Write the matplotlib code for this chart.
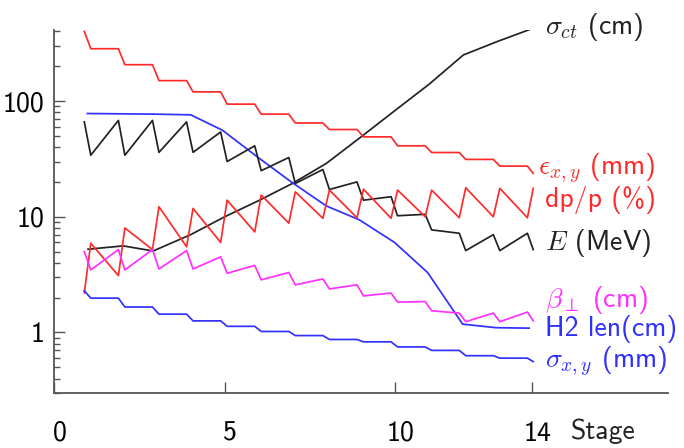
import matplotlib
matplotlib.use("Agg")
import matplotlib.pyplot as plt
from matplotlib import transforms

plt.rcParams["font.family"] = ["cmss10", "DejaVu Sans"]
plt.rcParams["mathtext.fontset"] = "cm"
plt.rcParams["axes.unicode_minus"] = False

# stage positions shared by the stepped / zigzag curves
stage_pos = [0.88, 1.07, 1.88, 2.07, 2.88, 3.07, 3.88, 4.07, 4.88, 5.07,
             5.88, 6.07, 6.88, 7.07, 7.88, 8.07, 8.88, 9.07, 9.88, 10.07,
             10.88, 11.07, 11.88, 12.07, 12.88, 13.07, 13.88, 14.05]

emit = [400, 283, 283, 206, 206, 150, 150, 120, 120, 94, 94, 77, 77, 64.6,
        64.6, 56.7, 56.7, 49, 49, 41, 41, 35.9, 35.9, 31.3, 31.3, 27.4, 27.4, 23.7]
dpp = [2.2, 5.9, 3.1, 8.0, 5.2, 12.2, 5.5, 11.8, 6.0, 13.9, 7.4, 15.4, 8.8, 16.4,
       9.7, 17, 9.8, 17.3, 9.7, 17, 10, 17, 9.8, 17.8, 10, 17.6, 9.8, 17.6]
energy = [66, 34, 68, 34, 68, 36, 66, 36, 54, 30, 41, 25, 32.5, 19.4,
          25.6, 17.2, 20, 13.9, 14.9, 10.2, 10.5, 7.7, 7.2, 5.1, 7.0, 5.1, 7.2, 5.2]
beta_perp = [5.0, 3.47, 5.2, 3.47, 5.2, 3.54, 5.1, 3.54, 4.5, 3.25, 3.8, 2.85, 3.3, 2.58,
             2.9, 2.38, 2.58, 2.07, 2.19, 1.83, 1.85, 1.54, 1.47, 1.24, 1.47, 1.24, 1.5, 1.26]
sigma_xy = [2.29, 1.98, 1.98, 1.66, 1.66, 1.44, 1.44, 1.26, 1.26, 1.13, 1.13, 1.02, 1.02, 0.94,
            0.94, 0.87, 0.87, 0.83, 0.83, 0.75, 0.75, 0.70, 0.70, 0.63, 0.63, 0.60, 0.60, 0.56]

sigma_ct_x = [0.99, 2.02, 2.9, 4, 5, 6, 7, 7.98, 9, 10, 11, 12, 13, 13.93]
sigma_ct = [5.24, 5.6, 5.06, 7.0, 10, 13.8, 19.5, 28.9, 49, 83, 140, 250, 327, 413]

h2_x = [0.97, 1.97, 2.97, 4.0, 4.93, 5.95, 6.95, 7.98, 8.95, 9.98, 10.95, 11.98, 12.95, 13.93]
h2_len = [78, 77.5, 77, 76, 56, 33, 20, 12.4, 9.4, 6.0, 3.3, 1.18, 1.1, 1.09]

x_ticks = [0, 5, 10, 14]
y_ticks = [1, 10, 100]

RED = "#ff2b2b"
BLUE = "#3030ff"
MAGENTA = "#ff30ff"
BLACK = "#222222"
AXIS = "#555555"

fig = plt.figure(figsize=(6.84, 4.48), dpi=100)
ax = fig.add_axes([0.0794, 0.1228, 0.897, 0.810])

lw = 1.25
ax.plot(sigma_ct_x, sigma_ct, color=BLACK, lw=lw)
ax.plot(stage_pos, emit, color=RED, lw=lw)
ax.plot(h2_x, h2_len, color=BLUE, lw=lw)
ax.plot(stage_pos, energy, color=BLACK, lw=lw)
ax.plot(stage_pos, dpp, color=RED, lw=lw)
ax.plot(stage_pos, beta_perp, color=MAGENTA, lw=lw)
ax.plot(stage_pos, sigma_xy, color=BLUE, lw=lw)

ax.set_yscale("log")
ax.set_xlim(0, 18)
ax.set_ylim(0.3, 410)

for s in ("top", "right"):
    ax.spines[s].set_visible(False)
for s in ("left", "bottom"):
    ax.spines[s].set_color(AXIS)
    ax.spines[s].set_linewidth(1.3)

ax.set_xticks(x_ticks, [str(t) for t in x_ticks])
ax.set_yticks(y_ticks, [str(t) for t in y_ticks])
ax.tick_params(axis="x", which="major", direction="in", length=8, width=1,
               color=AXIS, pad=20, labelsize=20)
ax.tick_params(axis="y", which="major", direction="in", length=8, width=1,
               color=AXIS, pad=7, labelsize=20)
ax.tick_params(axis="y", which="minor", direction="in", length=4.5, width=1,
               color=AXIS)

# nudge x tick labels slightly right, like the original
shift = transforms.ScaledTranslation(4 / 72, 0, fig.dpi_scale_trans)
for lab in ax.get_xticklabels():
    lab.set_transform(lab.get_transform() + shift)

ax.text(15.15, -0.105, "Stage", transform=ax.get_xaxis_transform(),
        fontsize=20, va="center", ha="left", color=BLACK)

lx = 14.4
fs = 20
ax.text(lx, 435, r"$\sigma_{ct}$ (cm)", color=BLACK, fontsize=fs, va="center")
ax.text(lx - 0.2, 26.3, r"$\epsilon_{x,y}$ (mm)", color=RED, fontsize=fs, va="center")
ax.text(lx, 13.9, "dp/p (%)", color=RED, fontsize=fs, va="center")
ax.text(lx, 5.93, r"$E$ (MeV)", color=BLACK, fontsize=fs, va="center")
ax.text(lx, 1.91, r"$\beta_\perp$ (cm)", color=MAGENTA, fontsize=fs, va="center")
ax.text(lx, 1.08, "H2 len(cm)", color=BLUE, fontsize=fs, va="center")
ax.text(lx, 0.56, r"$\sigma_{x,y}$ (mm)", color=BLUE, fontsize=fs, va="center")

fig.savefig("out.png", dpi=100)
